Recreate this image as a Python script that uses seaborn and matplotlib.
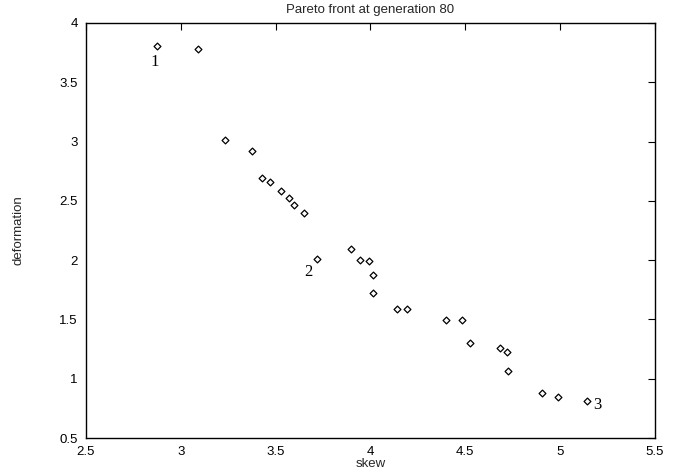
import matplotlib
matplotlib.use("Agg")
import matplotlib.pyplot as plt
import seaborn as sns
import pandas as pd

skew = [2.874, 3.090, 3.233, 3.375, 3.428, 3.470, 3.528, 3.570, 3.597, 3.649,
        3.718, 3.897, 3.945, 3.992, 4.013, 4.013, 4.140, 4.192, 4.398, 4.482,
        4.525, 4.683, 4.720, 4.725, 4.904, 4.989, 5.141]
deformation = [3.806, 3.780, 3.013, 2.920, 2.693, 2.660, 2.583, 2.524, 2.465, 2.398,
               2.010, 2.094, 2.000, 1.993, 1.875, 1.723, 1.588, 1.588, 1.495, 1.495,
               1.300, 1.259, 1.225, 1.065, 0.880, 0.846, 0.812]
annot_labels = ["1", "2", "3"]
annot_x = [2.885, 3.695, 5.175]
annot_y = [3.67, 1.90, 0.78]

x_ticks = [2.5, 3, 3.5, 4, 4.5, 5, 5.5]
y_ticks = [0.5, 1, 1.5, 2, 2.5, 3, 3.5, 4]

sns.set_style("white")
plt.rcParams['font.family'] = ['Liberation Sans', 'DejaVu Sans']

df = pd.DataFrame({"skew": skew, "deformation": deformation})

fig = plt.figure(figsize=(6.85, 4.76), dpi=100)
ax = fig.add_axes([0.1255, 0.0798, 0.9562 - 0.1255, 0.9517 - 0.0798])
sns.scatterplot(data=df, x="skew", y="deformation", ax=ax, marker="D", s=12,
                facecolor="white", edgecolor="black", linewidth=0.9, legend=False)

for lab, xx, yy in zip(annot_labels, annot_x, annot_y):
    ax.text(xx, yy, lab, family="Liberation Serif", fontsize=12,
            ha="left" if lab == "3" else "right", va="center", color="black")

ax.set_xlim(2.5, 5.5)
ax.set_ylim(0.5, 4)
ax.set_xticks(x_ticks)
ax.set_yticks(y_ticks)
ax.set_xticklabels([f"{v:g}" for v in x_ticks])
ax.set_yticklabels([f"{v:g}" for v in y_ticks])
ax.tick_params(direction="in", length=5, width=0.8, top=True, right=True,
               labelsize=9.5, colors="black", pad=6)
for s in ax.spines.values():
    s.set_visible(True)
    s.set_color("black")
    s.set_linewidth(1.0)
ax.set_xlabel("skew", fontsize=9.5, labelpad=0)
ax.set_ylabel("deformation", fontsize=9.5, labelpad=25)
ax.set_title("Pareto front at generation 80", fontsize=9.5, pad=7)

fig.savefig("out.png", dpi=100)
